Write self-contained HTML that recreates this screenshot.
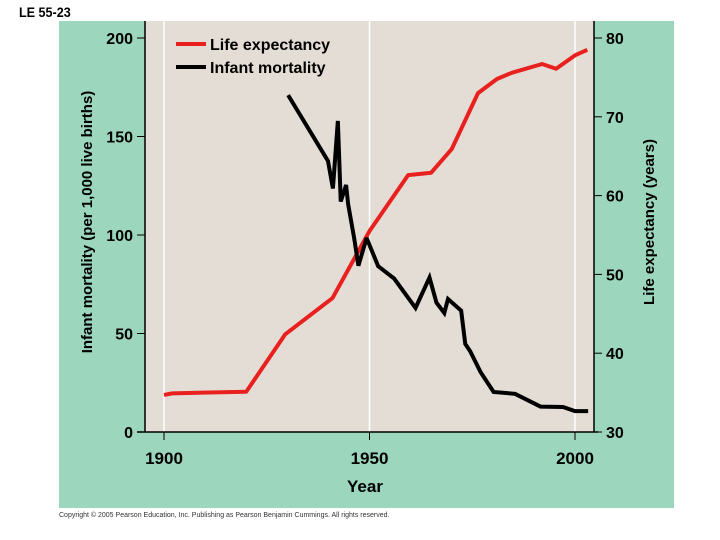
<!DOCTYPE html>
<html><head><meta charset="utf-8"><style>
html,body{margin:0;padding:0;background:#fff;}
svg{display:block;font-family:"Liberation Sans",Arial,sans-serif;}
</style></head><body>
<svg id="chart" width="720" height="540" viewBox="0 0 720 540">
<text x="19" y="17" font-size="14" font-weight="bold" transform="translate(19,0) scale(0.9,1) translate(-19,0)">LE 55-23</text>
<rect x="59" y="21" width="615" height="487" fill="#9bd6bd"/>
<rect x="145" y="21" width="449" height="411" fill="#e4ddd6"/>
<g id="grid"></g>
<g id="axes"></g>
<g id="series"></g>
<g>
<line x1="176" y1="44" x2="206" y2="44" stroke="#e8211f" stroke-width="4"/>
<text x="210" y="50" font-size="16" font-weight="bold">Life expectancy</text>
<line x1="176" y1="67" x2="206" y2="67" stroke="#000" stroke-width="4"/>
<text x="210" y="73" font-size="16" font-weight="bold">Infant mortality</text>
</g>
<text x="365" y="492" font-size="17" font-weight="bold" text-anchor="middle">Year</text>
<text transform="translate(92,222) rotate(-90)" font-size="15" font-weight="bold" text-anchor="middle">Infant mortality (per 1,000 live births)</text>
<text transform="translate(654,222) rotate(-90)" font-size="15" font-weight="bold" text-anchor="middle">Life expectancy (years)</text>
<text x="59" y="517" font-size="7" fill="#333">Copyright © 2005 Pearson Education, Inc. Publishing as Pearson Benjamin Cummings. All rights reserved.</text>
</svg>
<script>
const xTicks=[1900,1950,2000];
const leftTicks=[0,50,100,150,200];
const rightTicks=[30,40,50,60,70,80];
const lifeYears=[1900,1902,1909.5,1920,1929.5,1941,1950,1959.4,1965,1970,1976.4,1981,1984.7,1992,1995.4,2000,2003];
const lifeValues=[34.7,34.9,35.0,35.1,42.4,47.0,55.5,62.6,62.9,65.9,73.0,74.8,75.6,76.7,76.1,77.8,78.5];
const infantYears=[1930.2,1939.9,1941.1,1942.3,1943,1944.3,1944.8,1946.3,1947.3,1949.3,1952.1,1956,1961.2,1964.6,1966.3,1968.2,1969.1,1972.3,1973.3,1974.5,1977,1980.2,1985.4,1991.6,1997.1,2000,2003.2];
const infantValues=[171,137.6,123.6,157.9,117,125.4,115.7,98,84.4,98.5,84.2,77.9,63,78.4,65.6,60.4,67.5,61.6,44.7,41,30.5,20.3,19.4,12.9,12.7,10.6,10.6];
const NS='http://www.w3.org/2000/svg';
const X=y=>164+(y-1900)*(575-164)/100;
const YL=v=>432-v*(432-38)/200;
const YR=v=>432-(v-30)*(432-38)/50;
function mk(tag,attrs,parent,txt){const e=document.createElementNS(NS,tag);for(const k in attrs)e.setAttribute(k,attrs[k]);if(txt!==undefined)e.textContent=txt;parent.appendChild(e);return e;}
const grid=document.getElementById('grid'),axes=document.getElementById('axes'),series=document.getElementById('series');
xTicks.forEach(t=>{
 const g=mk('line',{x1:X(t),x2:X(t),y1:21,y2:432,stroke:'#fff','stroke-width':1.5},grid);
 
 
 const tk=mk('line',{x1:X(t),x2:X(t),y1:432,y2:440,stroke:'#000','stroke-width':1},axes);
 
 
 const lb=mk('text',{x:X(t),y:464,'font-size':17,'font-weight':'bold','text-anchor':'middle'},axes,String(t));
 
 
});
leftTicks.forEach(t=>{
 const tk=mk('line',{x1:137,x2:145,y1:YL(t),y2:YL(t),stroke:'#000','stroke-width':1},axes);
 
 
 const lb=mk('text',{x:133,y:YL(t)+6,'font-size':16,'font-weight':'bold','text-anchor':'end'},axes,String(t));
 
 
});
rightTicks.forEach(t=>{
 const tk=mk('line',{x1:594,x2:602,y1:YR(t),y2:YR(t),stroke:'#000','stroke-width':1},axes);
 
 
 const lb=mk('text',{x:606,y:YR(t)+6,'font-size':16,'font-weight':'bold'},axes,String(t));
 
 
});
const la=mk('line',{x1:145,x2:145,y1:21,y2:432,stroke:'#000','stroke-width':1.5},axes);


const ra=mk('line',{x1:594,x2:594,y1:21,y2:432,stroke:'#000','stroke-width':1.5},axes);


const ba=mk('line',{x1:137,x2:598,y1:432,y2:432,stroke:'#000','stroke-width':1.5},axes);


const lp=mk('polyline',{points:lifeYears.map((y,i)=>X(y)+','+YR(lifeValues[i])).join(' '),fill:'none',stroke:'#e8211f','stroke-width':4,'stroke-linejoin':'round'},series);


const ip=mk('polyline',{points:infantYears.map((y,i)=>X(y)+','+YL(infantValues[i])).join(' '),fill:'none',stroke:'#000','stroke-width':4,'stroke-linejoin':'miter','stroke-miterlimit':3},series);


</script>
</body></html>
